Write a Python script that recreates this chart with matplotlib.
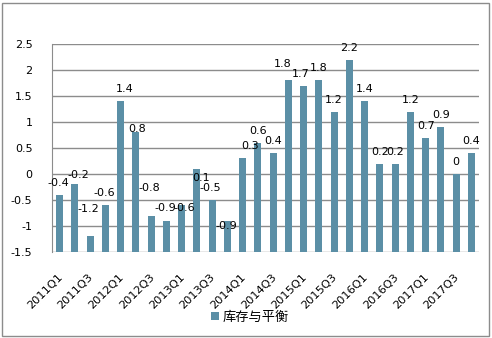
import matplotlib
matplotlib.use("Agg")
import matplotlib.pyplot as plt
from matplotlib.patches import Rectangle
from matplotlib.transforms import ScaledTranslation

plt.rcParams['font.family'] = ['DejaVu Sans', 'Noto Sans CJK SC']

quarters = [f"{y}Q{q}" for y in range(2011, 2018) for q in range(1, 5)]
values = [-0.4, -0.2, -1.2, -0.6,
          1.4, 0.8, -0.8, -0.9,
          -0.6, 0.1, -0.5, -0.9,
          0.3, 0.6, 0.4, 1.8,
          1.7, 1.8, 1.2, 2.2,
          1.4, 0.2, 0.2, 1.2,
          0.7, 0.9, 0.0, 0.4]
series_name = "库存与平衡"
yticks = [-1.5, -1, -0.5, 0, 0.5, 1, 1.5, 2, 2.5]
axis_base = -1.5  # category axis crosses the value axis here, bars grow from it

# label placement tweaks (index: (dx in slots, y in data units)) to mimic hand-placed labels
label_override = {0: (-0.1, -0.17), 1: (0.2, -0.02), 2: (-0.1, -0.67), 3: (-0.05, -0.37),
                  4: (0.25, None), 5: (0.1, 0.87),
                  6: (-0.1, -0.27), 7: (-0.05, -0.65), 8: (0.2, -0.65), 9: (0.25, -0.08),
                  10: (-0.1, -0.27), 11: (-0.05, -1.0), 12: (0.5, None), 15: (-0.35, 2.12),
                  16: (-0.2, None)}

W, H = 492, 338
fig = plt.figure(figsize=(W / 100, H / 100), dpi=100)
fig.patches.append(Rectangle((2 / W, 2 / H), 487 / W, 333 / H, transform=fig.transFigure,
                             fill=False, edgecolor='#8c8c8c', linewidth=1.0))
ax = fig.add_axes([52 / W, 1 - 252 / H, 427 / W, 208 / H])

color = '#5B8FA6'
x = list(range(len(quarters)))
ax.bar(x, [v - axis_base for v in values], bottom=axis_base, width=0.47, color=color,
       zorder=3, label=series_name)

ax.set_xlim(-0.5, len(quarters) - 0.5)
ax.set_ylim(-1.5, 2.5)
ax.set_yticks(yticks)
ax.set_yticklabels([f"{v:g}" for v in yticks], fontsize=8)
ax.yaxis.grid(True, color='#8c8c8c', linewidth=1.0, zorder=0)
ax.set_axisbelow(True)
for s in ['top', 'right', 'bottom']:
    ax.spines[s].set_visible(False)
ax.spines['left'].set_color('#8c8c8c')
ax.tick_params(axis='y', length=0, pad=14)
ax.tick_params(axis='x', length=0, pad=14)

ax.set_xticks(x[::2])
ax.set_xticklabels(quarters[::2], rotation=45, ha='right', va='top',
                   rotation_mode='anchor', fontsize=8.2)
shift = ScaledTranslation(-2 / 100, 0, fig.dpi_scale_trans)
for lbl in ax.get_xticklabels():
    lbl.set_transform(lbl.get_transform() + shift)

for i, v in enumerate(values):
    dx, ly = label_override.get(i, (0, None))
    if ly is None:
        ly = v + 0.23
    ax.text(i + dx, ly, f"{v:g}", ha='center', va='center', fontsize=8, zorder=4)

leg = fig.legend(loc='center', bbox_to_anchor=(250 / W, 1 - 317 / H), frameon=False,
                 handlelength=0.6, handleheight=0.6, handletextpad=0.3,
                 prop={'family': ['Noto Sans CJK SC'], 'size': 9.5})

fig.savefig("out.png", dpi=100)
